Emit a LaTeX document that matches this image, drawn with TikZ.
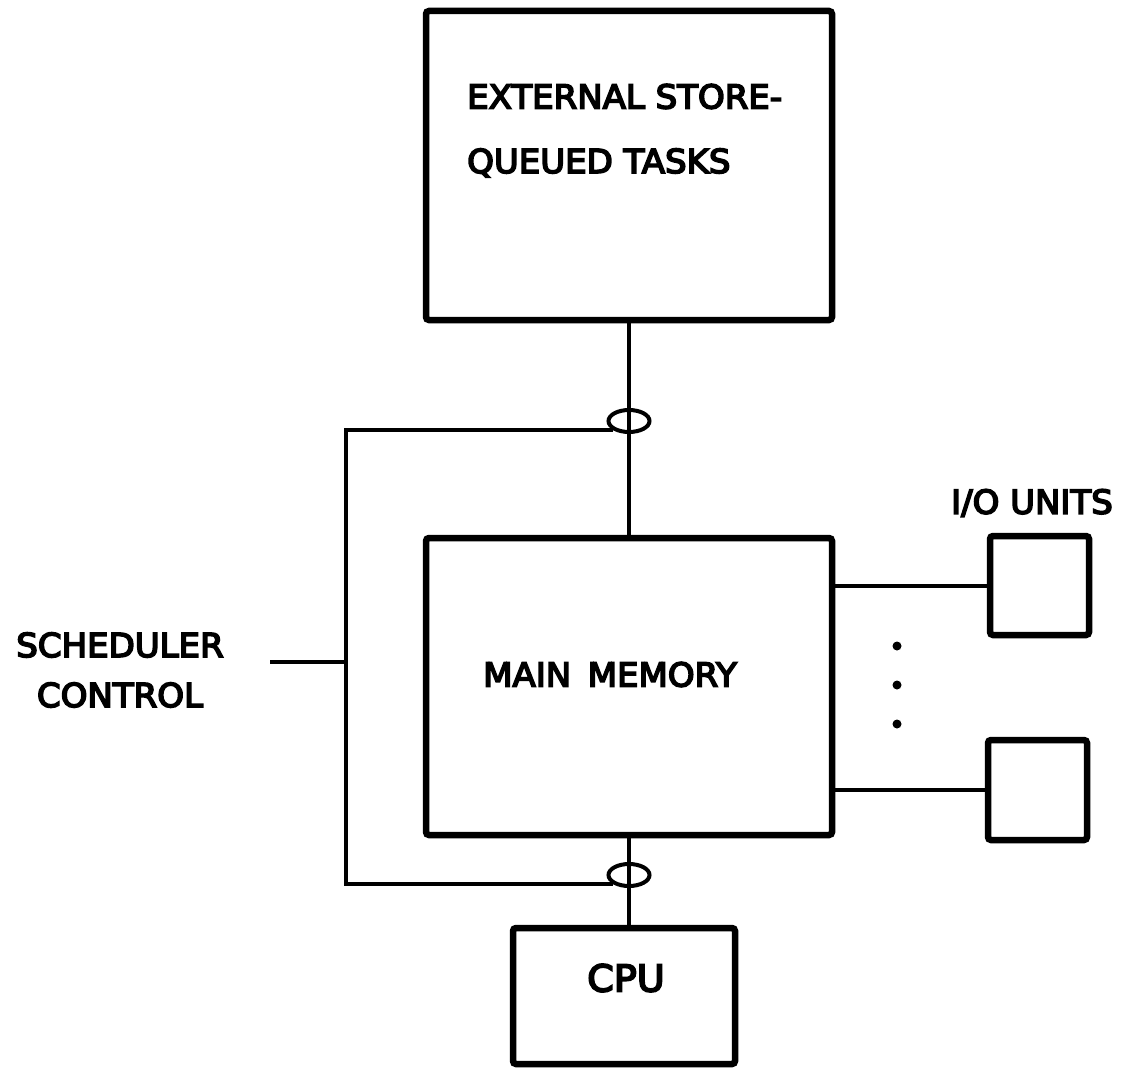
\documentclass[tikz,border=0pt]{standalone}
\usepackage{fontspec}
\setmainfont{DejaVu Sans}[FakeStretch=1.03,FakeBold=5]
\usetikzlibrary{shapes,positioning}

\tikzset{
 unit/.style={draw,line width=6.5pt,rounded corners=3pt,inner sep=0pt},
 wire/.style={line width=4pt},
 gate/.style={draw,ellipse,line width=4pt,minimum width=41pt,minimum height=22pt,inner sep=0pt},
 iodot/.style={circle,fill,inner sep=0pt,minimum size=9pt},
 lbl/.style={inner sep=0pt,font=\fontsize{33}{50}\selectfont}
}

\begin{document}
\begin{tikzpicture}[x=1pt,y=-1pt]
 \useasboundingbox (0,0) rectangle (1134,1070);
 % the units
 \node[unit,minimum width=406pt,minimum height=309pt] (ext) at (629,165.5) {};
 \node[unit,minimum width=406pt,minimum height=297pt] (mem) at (629,686.5) {};
 \node[unit,minimum width=222pt,minimum height=136pt] (cpu) at (624,996) {};
 \node[unit,minimum width=99pt,minimum height=99pt] (io1) at (1039.5,585.5) {};
 \node[unit,minimum width=99pt,minimum height=100pt] (io2) at (1037.5,790) {};
 % texts
 \node[lbl,anchor=base west,align=left,font=\fontsize{33}{64.5}\selectfont] (exttext) at (467,173) {EXTERNAL STORE-\\QUEUED TASKS};
 \node[lbl] (memtext) at (610,674.5) {MAIN\hspace{0.5em}MEMORY};
 \node[lbl,font=\fontsize{37}{40}\selectfont] (cputext) at (626,978) {CPU};
 \node[lbl] (iotext) at (1032,503) {I/O UNITS};
 \node[lbl,align=center] (sched) at (120,670) {SCHEDULER\\CONTROL};
 % data paths
 \draw[wire] (ext.south) -- (mem.north);
 \draw[wire] (mem.south) -- (mem.south |- cpu.north);
 \draw[wire] (io1.west) -- (io1.west -| mem.east);
 \draw[wire] (io2.west) -- (io2.west -| mem.east);
 \foreach \i/\y in {1/646,2/685,3/724}
  \node[iodot] (dot\i) at (897,\y) {};
 % scheduler control
 \node[gate] (g1) at (ext.south |- 0,421) {};
 \node[gate] (g2) at (mem.south |- 0,875) {};
 \coordinate (bus) at (346,662);
 \draw[wire] (g1.south west) -| (bus) |- (g2.south west);
 \draw[wire] (bus) -- ++(-76,0);
\end{tikzpicture}
\end{document}
